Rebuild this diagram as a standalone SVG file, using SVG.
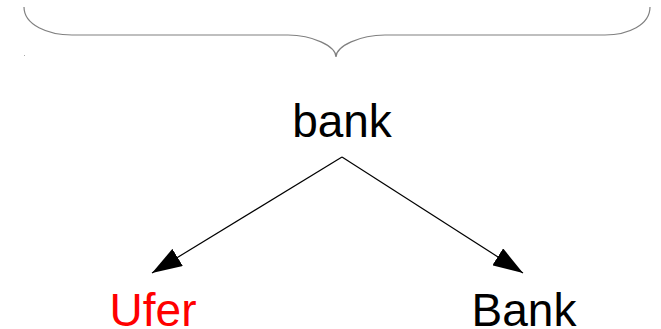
<svg xmlns="http://www.w3.org/2000/svg" width="661" height="329" viewBox="0 0 661 329">
<style>
.t{font-family:"Liberation Sans",Arial,sans-serif;font-size:46px;text-anchor:middle}
.e{stroke:#000;stroke-width:1.2;fill:none}
</style>
<defs>
<marker id="ah" markerWidth="30" markerHeight="20" refX="30" refY="10" orient="auto" markerUnits="userSpaceOnUse">
<path d="M0,0 L30,10 L0,20 Z" fill="#000"/>
</marker>
</defs>
<rect width="661" height="329" fill="#fff"/>
<g id="brace">
<path d="M24,7 C24,25 48,35 72,35 L288,35 C312,35 336,46 336,57 C336,46 360,35 385,35 L605,35 C628,35 650,25 650,7" fill="none" stroke="#808080" stroke-width="1.2"/>
<rect x="24" y="55" width="1" height="1" fill="#aaa"/>
</g>
<g id="connectors">
<line class="e" x1="342" y1="157" x2="152" y2="273" marker-end="url(#ah)"/>
<line class="e" x1="342" y1="157" x2="523" y2="273" marker-end="url(#ah)"/>
</g>
<g id="node-bank"><text class="t" x="342" y="137">bank</text></g>
<g id="node-ufer"><text class="t" x="153" y="326" fill="#ff0000">Ufer</text></g>
<g id="node-Bank"><text class="t" x="524" y="326">Bank</text></g>
</svg>
